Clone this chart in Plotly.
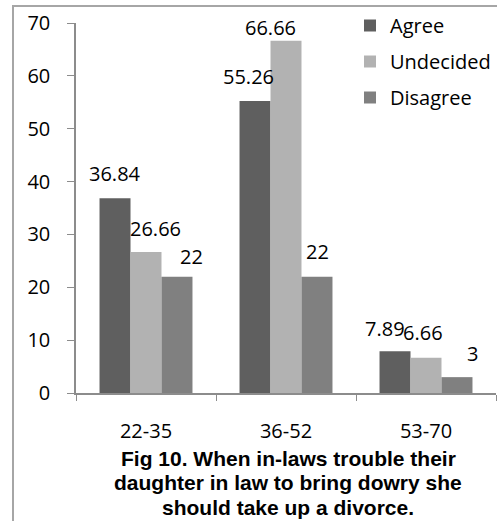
import plotly.graph_objects as go

categories = ["22-35", "36-52", "53-70"]
series_names = ["Agree", "Undecided", "Disagree"]
agree = [36.84, 55.26, 7.89]
undecided = [26.66, 66.66, 6.66]
disagree = [22, 22, 3]
y_ticks = [0, 10, 20, 30, 40, 50, 60, 70]
title_lines = [
    "Fig 10. When in-laws trouble their",
    "daughter in law to bring dowry she",
    "should take up a divorce.",
]

colors = ["#5f5f5f", "#b2b2b2", "#808080"]
values = [agree, undecided, disagree]

# label nudges (px) to mimic the original label placement: (dx, dy) per series per category
label_nudges = [
    [(0, 25), (-7, 24), (-10, 23)],
    [(9, 24), (-16, 13), (-3, 25)],
    [(14, 20), (0, 25), (15, 24)],
]

W, H = 497, 521
ML, MR, MT, MB = 76, 1, 23, 128
PW, PH = W - ML - MR, H - MT - MB
bar_w_px = 31


def px_to_paper_x(px):
    return (px - ML) / PW


def px_to_paper_y(py):
    return (H - MB - py) / PH


fig = go.Figure()
for i, (name, vals, col) in enumerate(zip(series_names, values, colors)):
    fig.add_trace(go.Bar(
        x=categories, y=vals, name=name, marker=dict(color=col, line=dict(width=0)),
        legendgroup=name, hoverinfo="skip",
    ))

font_main = "Open Sans"
annotations = []
for i, vals in enumerate(values):
    for j, v in enumerate(vals):
        dx, dy = label_nudges[i][j]
        annotations.append(dict(
            x=categories[j], y=v, xref="x", yref="y", text=f"{v:g}", showarrow=False,
            xshift=(i - 1) * bar_w_px + dx, yshift=dy, yanchor="middle", xanchor="center",
            font=dict(family=font_main, size=20, color="#000000"),
        ))

title_centers_px = [458, 482.5, 507]
for line, cy in zip(title_lines, title_centers_px):
    annotations.append(dict(
        x=px_to_paper_x(288), y=px_to_paper_y(cy), xref="paper", yref="paper",
        text=line, showarrow=False, xanchor="center", yanchor="middle", align="center",
        font=dict(family="Liberation Sans, Arial", size=21, color="#000000", weight="bold"),
    ))

shapes = [dict(
    type="rect", xref="paper", yref="paper",
    x0=px_to_paper_x(13), x1=px_to_paper_x(520),
    y0=px_to_paper_y(540), y1=px_to_paper_y(6),
    line=dict(color="#a6a6a6", width=2), fillcolor="rgba(0,0,0,0)", layer="below",
)]

fig.update_layout(
    width=W, height=H,
    margin=dict(l=ML, r=MR, t=MT, b=MB, autoexpand=False),
    paper_bgcolor="white", plot_bgcolor="white",
    barmode="group", bargap=0.336, bargroupgap=0,
    showlegend=True,
    legend=dict(
        x=px_to_paper_x(350), y=px_to_paper_y(6), xanchor="left", yanchor="top",
        font=dict(family=font_main, size=20, color="#000000"),
        bgcolor="rgba(0,0,0,0)", tracegroupgap=7, traceorder="grouped",
    ),
    xaxis=dict(
        showline=True, linecolor="#8c8c8c", linewidth=1.5,
        ticks="outside", tickson="boundaries", ticklen=6, tickcolor="#8c8c8c",
        tickfont=dict(family=font_main, size=20, color="#000000"),
        ticklabelstandoff=19, showgrid=False, fixedrange=True,
    ),
    yaxis=dict(
        range=[0, 70], tickvals=y_ticks, showline=True, linecolor="#8c8c8c", linewidth=1.5,
        ticks="outside", ticklen=7, tickcolor="#8c8c8c",
        tickfont=dict(family=font_main, size=20, color="#000000"),
        ticklabelstandoff=13, showgrid=False, zeroline=False, fixedrange=True,
    ),
    annotations=annotations,
    shapes=shapes,
)

fig.write_html(
    "out.html",
    config={"displayModeBar": False},
    post_script="document.body.style.margin='0';document.body.style.overflow='hidden';",
)
